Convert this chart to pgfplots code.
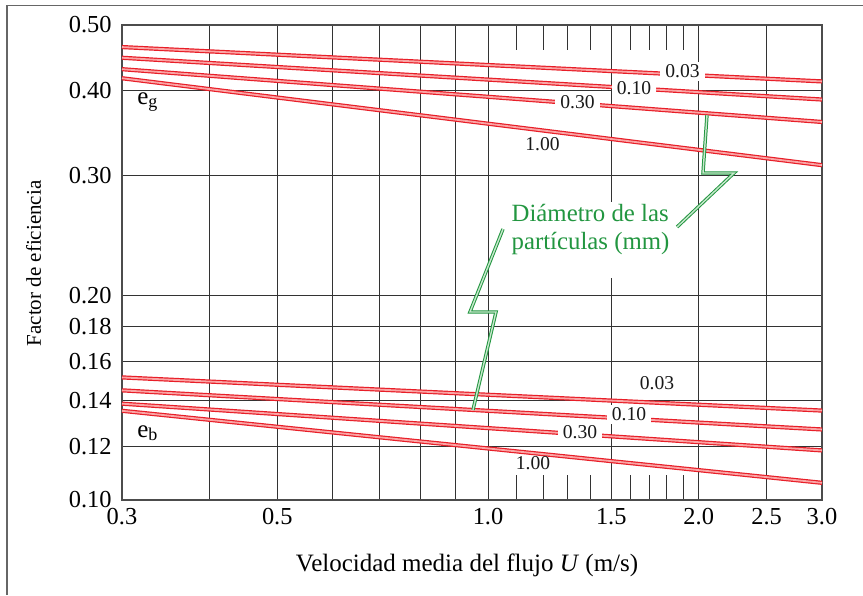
\documentclass[border=0pt]{standalone}
\usepackage{fontspec}
\setmainfont{Liberation Serif}
\usepackage{pgfplots}
\pgfplotsset{compat=1.18}
\definecolor{cred}{RGB}{232,30,40}
\definecolor{cpink}{RGB}{250,165,165}
\definecolor{cgreen}{RGB}{34,150,64}
\definecolor{cgreenl}{RGB}{200,232,205}
\tikzset{
  curve/.style={draw=cred, line width=0.6pt, double=cpink, double distance=0.9pt},
  ptr/.style={draw=cgreen, line width=0.5pt, double=cgreenl, double distance=0.7pt},
  lab/.style={font=\fontsize{9.8}{11}\selectfont, text=black!90},
  gap/.style={lab, fill=white, inner xsep=2.5pt, inner ysep=1.5pt},
}
\begin{document}
\begin{tikzpicture}
\useasboundingbox (0,0) rectangle (431.5pt,297.5pt);
\draw[black!60, line width=0.7pt] (3.5pt,0pt) -- (3.5pt,294.65pt) -- (431.5pt,294.65pt);
\begin{axis}[
  at={(61pt,47.5pt)}, anchor=south west,
  scale only axis, width=350pt, height=237.5pt,
  xmode=log, ymode=log,
  xmin=0.3, xmax=3, ymin=0.1, ymax=0.5,
  xtick={0.3,0.4,0.5,0.6,0.7,0.8,0.9,1,1.5,2,2.5,3},
  xticklabels={0.3,{},0.5,{},{},{},{},1.0,1.5,2.0,2.5,3.0},
  ytick={0.1,0.12,0.14,0.16,0.18,0.2,0.3,0.4,0.5},
  yticklabels={0.10,0.12,0.14,0.16,0.18,0.20,0.30,0.40,0.50},
  minor xtick={1.1,1.2,1.3,1.4,1.6,1.7,1.8,1.9},
  yminorticks=false,
  major tick length=0pt, minor tick length=12.5pt,
  tick align=inside,
  every minor tick/.style={black!80, line width=0.5pt},
  grid=major,
  major grid style={black!80, line width=0.5pt},
  axis line style={black!70, line width=0.7pt},
  tick label style={font=\fontsize{12.2}{13}\selectfont},
  xticklabel style={inner sep=0pt, yshift=-4pt},
  yticklabel style={inner sep=0pt, xshift=-5pt},
  xlabel={Velocidad media del flujo \textit{U} (m/s)},
  ylabel={Factor de eficiencia},
  xlabel style={at={(axis description cs:0.493,-0.1368)}, anchor=center, font=\fontsize{12.5}{14}\selectfont},
  ylabel style={at={(axis description cs:-0.1264,0.498)}, anchor=center, font=\fontsize{10.5}{12}\selectfont},
  clip=false,
]
% e_g group (upper)
\addplot[curve] coordinates {(0.3,0.464) (3,0.413)};
\addplot[curve] coordinates {(0.3,0.4475) (3,0.3885)};
\addplot[curve] coordinates {(0.3,0.4305) (3,0.360)};
\addplot[curve] coordinates {(0.3,0.4175) (3,0.311)};
% e_b group (lower)
\addplot[curve] coordinates {(0.3,0.1515) (3,0.1354)};
\addplot[curve] coordinates {(0.3,0.145) (3,0.127)};
\addplot[curve] coordinates {(0.3,0.1386) (3,0.1183)};
\addplot[curve] coordinates {(0.3,0.1353) (3,0.106)};
% curve labels
\node[gap] at (rel axis cs:0.8007,0.902) {0.03};
\node[gap] at (rel axis cs:0.7314,0.868) {0.10};
\node[gap] at (rel axis cs:0.6507,0.8385) {0.30};
\node[lab] at (rel axis cs:0.6007,0.7499) {1.00};
\node[lab] at (rel axis cs:0.7643,0.2464) {0.03};
\node[gap] at (rel axis cs:0.7243,0.180) {0.10};
\node[gap] at (rel axis cs:0.6543,0.1427) {0.30};
\node[lab] at (rel axis cs:0.5871,0.0776) {1.00};
% e labels
\node[anchor=base west, inner sep=0pt, font=\fontsize{12.5}{14}\selectfont] at (rel axis cs:0.0214,0.8337) {e{\fontsize{9}{9}\selectfont\raisebox{-1.5pt}{g}}};
\node[anchor=base west, inner sep=0pt, font=\fontsize{12.5}{14}\selectfont] at (rel axis cs:0.0214,0.1326) {e{\fontsize{9}{9}\selectfont\raisebox{-1.5pt}{b}}};
% annotation
\fill[white] (rel axis cs:0.5471,0.4674) rectangle (rel axis cs:0.79,0.6274);
\node[align=left, text=cgreen, inner sep=0pt, font=\fontsize{12.4}{14}\selectfont] at (rel axis cs:0.6693,0.5705) {Diámetro de las\\partículas (mm)};
\draw[ptr] (rel axis cs:0.7929,0.5747) -- (rel axis cs:0.8743,0.6884) -- (rel axis cs:0.8300,0.6884) -- (rel axis cs:0.8357,0.810);
\draw[ptr] (rel axis cs:0.5443,0.5705) -- (rel axis cs:0.4971,0.3958) -- (rel axis cs:0.5343,0.3958) -- (rel axis cs:0.5014,0.1896);
\end{axis}
\end{tikzpicture}
\end{document}
